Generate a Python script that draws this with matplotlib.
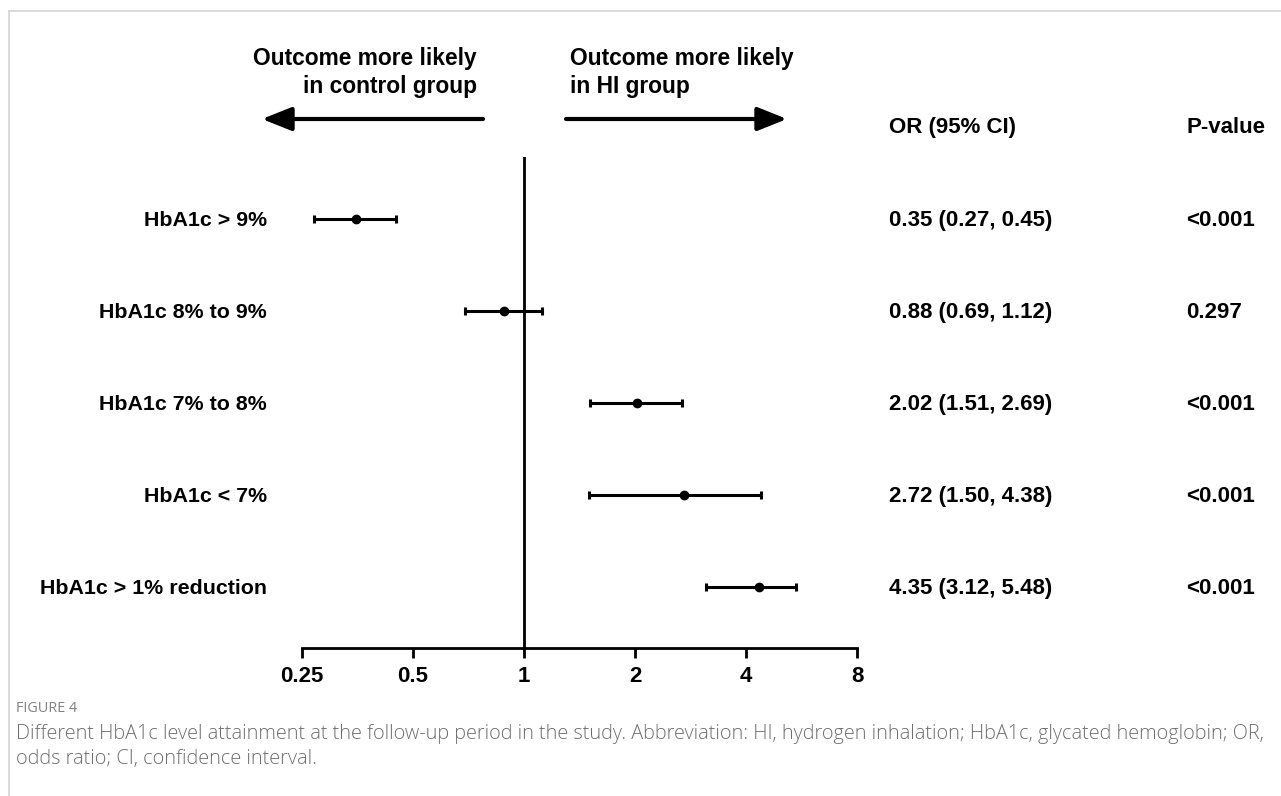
import matplotlib
matplotlib.use("Agg")
import matplotlib.pyplot as plt
from matplotlib.patches import FancyArrowPatch
from matplotlib.lines import Line2D
from matplotlib.transforms import blended_transform_factory, ScaledTranslation

# ---- data ----
labels = ["HbA1c > 9%", "HbA1c 8% to 9%", "HbA1c 7% to 8%", "HbA1c < 7%", "HbA1c > 1% reduction"]
odds_ratio = [0.35, 0.88, 2.02, 2.72, 4.35]
ci_low = [0.27, 0.69, 1.51, 1.50, 3.12]
ci_high = [0.45, 1.12, 2.69, 4.38, 5.48]
p_values = ["<0.001", "0.297", "<0.001", "<0.001", "<0.001"]
x_ticks = [0.25, 0.5, 1, 2, 4, 8]
x_tick_labels = ["0.25", "0.5", "1", "2", "4", "8"]

W, H = 1281, 796
plt.rcParams["font.family"] = ["Liberation Sans", "DejaVu Sans"]
fig = plt.figure(figsize=(W / 100, H / 100), dpi=100)
BOLD = dict(fontsize=16, fontweight="bold", color="black")
LABEL = dict(BOLD, fontsize=15.4)
HEAD = dict(BOLD, fontsize=16.4)


def fx(px):
    return px / W


def fy(py):
    return 1 - py / H


# plotting area laid out in pixel space
ax_l, ax_r, ax_t, ax_b = 302, 857, 157, 648
ax = fig.add_axes([fx(ax_l), fy(ax_b), fx(ax_r - ax_l), (ax_b - ax_t) / H])
ax.set_xscale("log", base=2)
ax.set_xlim(0.25, 8)
rows = list(range(1, len(labels) + 1))
ax.set_ylim(5.663, 0.326)

for s in ["top", "right", "left"]:
    ax.spines[s].set_visible(False)
ax.spines["bottom"].set_linewidth(2.0)
ax.set_yticks([])
ax.set_xticks(x_ticks)
ax.set_xticklabels(x_tick_labels, **BOLD)
ax.minorticks_off()
ax.tick_params(axis="x", direction="out", length=7, width=2.0, pad=6)

ax.axvline(1, color="black", lw=2.0)

xerr = [[o - l for o, l in zip(odds_ratio, ci_low)],
        [h - o for o, h in zip(odds_ratio, ci_high)]]
ax.errorbar(odds_ratio, rows, xerr=xerr, fmt="o", color="black", ms=6,
            elinewidth=2.2, capsize=3, capthick=2.2, clip_on=False)

# text columns, baselines dropped a few points below each row centre
tr = blended_transform_factory(fig.transFigure, ax.transData)
drop = ScaledTranslation(0, -5.3 / 72, fig.dpi_scale_trans)
for r, lab, o, l, h, p in zip(rows, labels, odds_ratio, ci_low, ci_high, p_values):
    ax.text(fx(267), r, lab, transform=tr + drop, ha="right", va="baseline", **LABEL)
    ax.text(fx(889), r, f"{o:.2f} ({l:.2f}, {h:.2f})", transform=tr + drop,
            ha="left", va="baseline", **BOLD)
    ax.text(fx(1186), r, p, transform=tr + drop, ha="left", va="baseline", **BOLD)

fig.text(fx(889), fy(133), "OR (95% CI)", ha="left", va="baseline", **BOLD)
fig.text(fx(1186), fy(133), "P-value", ha="left", va="baseline", **BOLD)

# direction captions and arrows
fig.text(fx(477), fy(65), "Outcome more likely", ha="right", va="baseline", **HEAD)
fig.text(fx(477), fy(93), "in control group", ha="right", va="baseline", **HEAD)
fig.text(fx(570), fy(65), "Outcome more likely", ha="left", va="baseline", **HEAD)
fig.text(fx(570), fy(93), "in HI group", ha="left", va="baseline", **HEAD)
arrow_style = dict(arrowstyle="-|>,head_length=1.5,head_width=0.6", lw=3,
                   color="black", shrinkA=0, shrinkB=0, mutation_scale=12)
fig.add_artist(FancyArrowPatch((fx(483), fy(119)), (fx(262), fy(119)),
                               transform=fig.transFigure, **arrow_style))
fig.add_artist(FancyArrowPatch((fx(566), fy(119)), (fx(787), fy(119)),
                               transform=fig.transFigure, **arrow_style))

# frame lines
fig.add_artist(Line2D([fx(9), 1], [fy(11), fy(11)], transform=fig.transFigure,
                      color="#d4d4d4", lw=1.2))
fig.add_artist(Line2D([fx(9), fx(9)], [fy(11), 0], transform=fig.transFigure,
                      color="#d4d4d4", lw=1.2))

# figure caption, sized to span a given pixel width
cap_font = ["Open Sans", "DejaVu Sans"]
renderer = fig.canvas.get_renderer()


def fitted_text(x, y, s, width_px, **kw):
    t = fig.text(fx(x), fy(y), s, ha="left", va="center", family=cap_font,
                 fontsize=10, **kw)
    w = t.get_window_extent(renderer).width
    t.set_fontsize(10 * width_px / w)
    return t


fitted_text(16, 708, "FIGURE 4", 61, color="#808080")
line1 = fitted_text(16, 734,
                    "Different HbA1c level attainment at the follow-up period in the study. "
                    "Abbreviation: HI, hydrogen inhalation; HbA1c, glycated hemoglobin; OR,",
                    1246, color="#6e6e6e", fontweight="light")
fig.text(fx(16), fy(759), "odds ratio; CI, confidence interval.", ha="left",
         va="center", color="#6e6e6e", family=cap_font, fontweight="light",
         fontsize=line1.get_fontsize())

fig.savefig("out.png", dpi=100)
